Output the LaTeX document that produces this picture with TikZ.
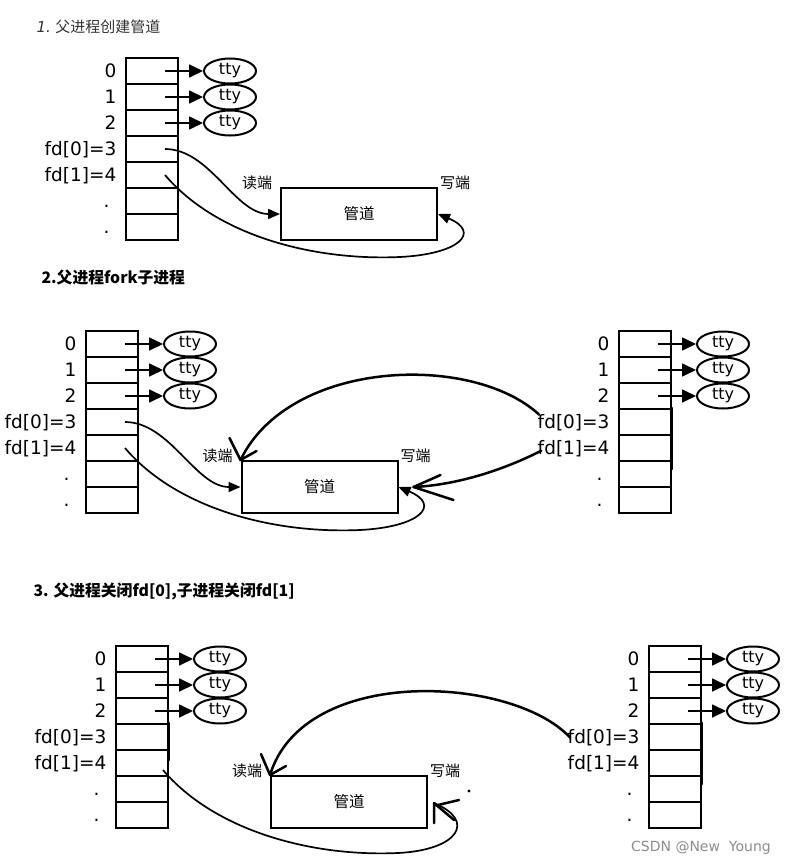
\documentclass[tikz,border=0pt]{standalone}
\usepackage{fontspec}
\setmainfont{DejaVu Sans}
\newfontfamily\cjk{Noto Sans CJK SC}
\usetikzlibrary{arrows.meta, shapes.geometric, positioning}

\begin{document}
\begin{tikzpicture}[x=1pt, y=-1pt,
  fdcell/.style={draw, line width=2pt, minimum width=52pt, minimum height=26pt, inner sep=0pt},
  ttybox/.style={draw, ellipse, line width=2pt, minimum width=52pt, minimum height=25pt, inner sep=0pt, font=\fontsize{16}{16}\selectfont},
  ptrarrow/.style={line width=1.7pt, -{Triangle[length=14pt, width=13pt]}},
  pipebox/.style={draw, line width=2pt, minimum width=156pt, minimum height=52pt, inner sep=0pt, font=\cjk\fontsize{15.5}{15.5}\selectfont},
  endlabel/.style={font=\cjk\fontsize{15}{15}\selectfont},
  fdlabel/.style={anchor=base east, font=\fontsize{18.5}{18.5}\selectfont},
  titletext/.style={anchor=base west, font=\cjk\bfseries\fontsize{15.8}{15.8}\selectfont},
  flowline/.style={line width=1.7pt, -{Triangle[length=12pt, width=10pt]}},
  handline/.style={line width=2.5pt, line cap=round, line join=round}]
  \useasboundingbox (0,0) rectangle (789,867);
  % titles
  \node[anchor=base west, font=\cjk\fontsize{15}{15}\selectfont, text=black!80] (title1) at (33,33) {{\rmfamily\itshape 1.} 父进程创建管道};
  \node[titletext] (title2) at (38,283) {2.父进程fork子进程};
  \node[titletext] (title3) at (30,596) {3. 父进程关闭fd[0],子进程关闭fd[1]};
  % fd tables with the three tty entries
  \foreach \tb/\tx/\ty in {A/126/58, B/86/331, C/619/331, D/116/646, E/649/646} {
    \foreach \r in {0,...,6}
      \node[fdcell] (\tb\r) at (\tx+26, \ty+13+26*\r) {};
    \foreach \r/\txt in {0/0, 1/1, 2/2, 3/{fd[0]=3}, 4/{fd[1]=4}}
      \node[fdlabel] (\tb l\r) at (\tx-6, \ty+19.5+26*\r) {\txt};
    \foreach \r in {5,6}
      \node[fdlabel] (\tb l\r) at (\tx-13, \ty+19.5+26*\r) {.};
    \foreach \r in {0,1,2} {
      \node[ttybox] (\tb t\r) at (\tx+104, \ty+13+26*\r) {tty};
      \draw[ptrarrow] ([xshift=13pt]\tb\r.center) -- (\tb t\r);
    }
  }
  % pipes
  \node[pipebox] (Ap) at (359,214) {管道};
  \node[pipebox] (Bp) at (319.5,487) {管道};
  \node[pipebox] (Dp) at (349,802) {管道};
  \foreach \p in {A,B,D} {
    \node[endlabel] (\p r) at ([shift={(-23,-4)}]\p p.north west) {读端};
    \node[endlabel] (\p w) at ([shift={(17,-4)}]\p p.north east) {写端};
  }
  % parent read ends
  \draw[flowline] ([xshift=13pt]A3.center) .. controls +(45,0) and +(-45,0) .. (Ap.west);
  \draw[flowline] ([xshift=13pt]B3.center) .. controls +(45,0) and +(-45,0) .. (Bp.west);
  % parent write ends
  \draw[flowline] ([xshift=13pt]A4.center) .. controls +(50,59) and +(-90,4) .. ++(235,82)
    .. controls +(60,-3) and +(43,18) .. (Ap.east);
  \draw[flowline] ([xshift=13pt]B4.center) .. controls +(50,59) and +(-90,4) .. ++(235,82)
    .. controls +(60,-3) and +(43,18) .. (Bp.east);
  \draw[line width=1.7pt] ([shift={(21,7)}]D4.center) .. controls +(50,59) and +(-90,4) .. ++(235,83)
    .. controls +(60,-3) and +(43,18) .. ([shift={(6,1)}]Dp.east);
  \draw[handline] ([shift={(6,21)}]Dp.east) -- ([shift={(6,1)}]Dp.east) -- ([shift={(26,18)}]Dp.east);
  \draw[handline] ([shift={(31,-2)}]Dp.east) -- ([shift={(10,3)}]Dp.east);
  \fill ([shift={(41,-11)}]Dp.east) circle (1.7);
  % child ends, drawn by hand
  \draw[handline] ([shift={(5,-8)}]Cl3.west) .. controls +(-67,-62) and +(49,-101) .. (Bp.north west);
  \draw[handline] ([shift={(-11,-22)}]Bp.north west) -- (Bp.north west) -- ([shift={(16,-9)}]Bp.north west);
  \draw[handline] ([shift={(7,2)}]Cl4.west) .. controls +(-35,18) and +(45,-2) .. ([xshift=15pt]Bp.east);
  \draw[handline] ([shift={(42,-12)}]Bp.east) -- ([xshift=15pt]Bp.east) -- ([shift={(55,13)}]Bp.east);
  \draw[handline] ([shift={(6,0)}]El3.west) .. controls +(-57,-62) and +(34,-111) .. (Dp.north west);
  \draw[handline] ([shift={(-9,-21)}]Dp.north west) -- (Dp.north west) -- ([shift={(16,-9)}]Dp.north west);
  % redrawn borders
  \draw[handline] (C3.north east) -- ([yshift=-7pt]C4.south east);
  \draw[handline] (E3.north east) -- ([yshift=-7pt]E4.south east);
  \draw[handline] (D3.north east) -- ([yshift=3pt]D4.east);
  % watermark
  \node[text=black!45, font=\fontsize{14}{14}\selectfont] (mark) at (701,848) {CSDN @New\ \ Young};
\end{tikzpicture}
\end{document}
